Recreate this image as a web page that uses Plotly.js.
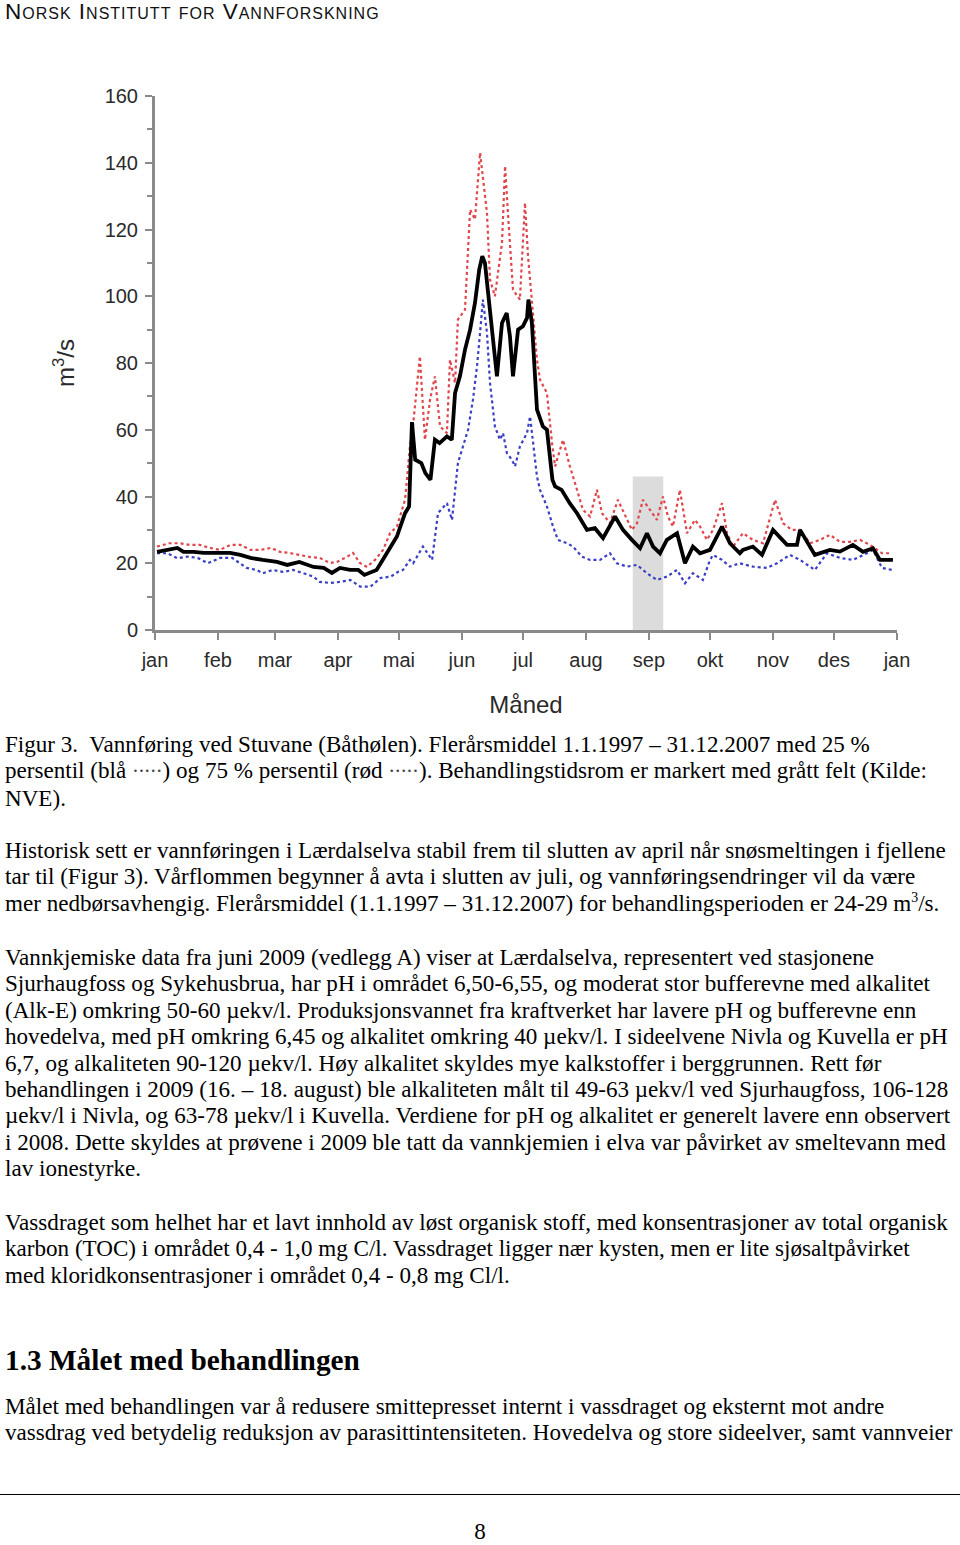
<!DOCTYPE html>
<html>
<head>
<meta charset="utf-8">
<script src="https://cdn.plot.ly/plotly-3.0.1.min.js"></script>
<style>
  html, body { margin:0; padding:0; background:#fff; }
  body { width:960px; height:1545px; position:relative; overflow:hidden; }
  #header { position:absolute; left:5px; top:0px; font-family:"Liberation Sans", Arial, sans-serif; font-variant:small-caps; font-size:22.5px; letter-spacing:1.0px; color:#111; line-height:24px; white-space:nowrap; }
  #chart { position:absolute; left:0; top:60px; width:960px; height:670px; }
  .txt { position:absolute; left:5px; font-family:"Liberation Serif", "Times New Roman", serif; font-size:23.1px; line-height:26.4px; color:#000; white-space:nowrap; }
  .h2 { position:absolute; left:5px; font-family:"Liberation Serif", "Times New Roman", serif; font-weight:bold; font-size:29.3px; color:#000; white-space:nowrap; line-height:32px; }
  .dots { letter-spacing:-1px; font-size:0.9em; color:#444; padding-right:1px; }
  #rule { position:absolute; left:0; top:1494px; width:960px; height:0; border-top:1.5px solid #000; }
  #pnum { position:absolute; left:0; width:960px; top:1519px; text-align:center; font-family:"Liberation Serif", "Times New Roman", serif; font-size:23px; line-height:26px; }
  sup { font-size:0.6em; line-height:0; vertical-align:0.65em; }
</style>
</head>
<body>
<div id="header">Norsk Institutt for Vannforskning</div>
<div id="chart"></div>

<div class="txt" style="top:731px">Figur 3.&nbsp; Vannføring ved Stuvane (Båthølen). Flerårsmiddel 1.1.1997 – 31.12.2007 med 25 %<br>persentil (blå <span class="dots">·····</span>) og 75 % persentil (rød <span class="dots">·····</span>). Behandlingstidsrom er markert med grått felt (Kilde:<br>NVE).</div>

<div class="txt" style="top:837px">Historisk sett er vannføringen i Lærdalselva stabil frem til slutten av april når snøsmeltingen i fjellene<br>tar til (Figur 3). Vårflommen begynner å avta i slutten av juli, og vannføringsendringer vil da være<br>mer nedbørsavhengig. Flerårsmiddel (1.1.1997 – 31.12.2007) for behandlingsperioden er 24-29 m<sup>3</sup>/s.</div>

<div class="txt" style="top:944px">Vannkjemiske data fra juni 2009 (vedlegg A) viser at Lærdalselva, representert ved stasjonene<br>Sjurhaugfoss og Sykehusbrua, har pH i området 6,50-6,55, og moderat stor bufferevne med alkalitet<br>(Alk-E) omkring 50-60 µekv/l. Produksjonsvannet fra kraftverket har lavere pH og bufferevne enn<br>hovedelva, med pH omkring 6,45 og alkalitet omkring 40 µekv/l. I sideelvene Nivla og Kuvella er pH<br>6,7, og alkaliteten 90-120 µekv/l. Høy alkalitet skyldes mye kalkstoffer i berggrunnen. Rett før<br>behandlingen i 2009 (16. – 18. august) ble alkaliteten målt til 49-63 µekv/l ved Sjurhaugfoss, 106-128<br>µekv/l i Nivla, og 63-78 µekv/l i Kuvella. Verdiene for pH og alkalitet er generelt lavere enn observert<br>i 2008. Dette skyldes at prøvene i 2009 ble tatt da vannkjemien i elva var påvirket av smeltevann med<br>lav ionestyrke.</div>

<div class="txt" style="top:1209px">Vassdraget som helhet har et lavt innhold av løst organisk stoff, med konsentrasjoner av total organisk<br>karbon (TOC) i området 0,4 - 1,0 mg C/l. Vassdraget ligger nær kysten, men er lite sjøsaltpåvirket<br>med kloridkonsentrasjoner i området 0,4 - 0,8 mg Cl/l.</div>

<div class="h2" style="top:1344px">1.3 Målet med behandlingen</div>

<div class="txt" style="top:1393px">Målet med behandlingen var å redusere smittepresset internt i vassdraget og eksternt mot andre<br>vassdrag ved betydelig reduksjon av parasittintensiteten. Hovedelva og store sideelver, samt vannveier</div>

<div id="rule"></div>
<div id="pnum">8</div>

<script>
// Month ticks (day of year at month start) and labels
const monthStartDays = [0, 31, 59, 90, 120, 151, 181, 212, 243, 273, 304, 334, 365];
const monthLabels = ["jan","feb","mar","apr","mai","jun","jul","aug","sep","okt","nov","des","jan"];

// Multi-year mean (black solid)
const meanDays = [1,6,11,14,19,24,31,37,42,47,53,60,65,71,78,83,87,91,96,100,103,109,112,116,119,123,125,126.4,128,131,133,135.5,137.7,140,143.6,146,147.6,150,152.5,155,157.4,159.5,161,162.3,164,166,168.2,170.7,173,174.6,176.1,178.6,181,183,183.7,185.4,187.9,190.8,192.8,195.5,196.8,200,204,207.6,212.5,216.4,220.4,226.3,230.2,234.6,238.6,242,245,248.4,251.8,256.8,260.7,264.6,268.1,273,278.9,282.8,287.7,289.2,294.1,298.6,304,310.9,315.8,317.3,324.6,332,336.9,343.3,348.3,353.2,356.6,363];
const meanVals = [23.4,24,24.6,23.4,23.4,23.1,23.1,23.1,22.5,21.6,21,20.4,19.5,20.4,18.9,18.6,17.1,18.6,18,18,16.5,18,21,24.9,28,35,37,62.3,51,50,47,45,57,56,58,57,71,76,84,90,98,108,112,110,100,88,76,92,95,88,76,90,91,93.5,99,92,66,61,60,45,43,42,38,35,30,30.5,27.5,34,30,27,24.5,29,25,23,27,29,20,25,23,24,31,26,23,24,25,22.5,30,25.5,25.5,30,22.5,24,23.5,25.5,23.4,24.5,21,21];

// 75 % percentile (red dotted)
const p75Days = [1,7,12,17,22,27,32,37,42,47,52,57,61.5,66,71,76,81,86,89.5,94.4,97.4,100.8,104.3,108.2,112.2,115.6,119,123,125.4,126.9,130.3,132.8,135.3,137.7,140.2,143.6,145.1,147.6,149,152.5,155,157.4,159.9,161.3,163.3,164.8,167.2,170.7,172.2,173.6,176.1,179.5,182,183.5,185.4,187.9,189.4,192.8,195.3,196.8,200.7,204.1,207.6,210.5,214,217.4,219.9,223.8,227.7,232.2,234.6,237.1,240,243.5,246.9,249.9,252.3,254.8,258.2,261.7,265.6,268.1,271.5,274.5,278.9,281.4,284.3,289.2,294.1,299.1,305,308.9,313.3,317.3,322.2,327.1,332,336.9,341.9,346.8,351.7,357.6,362.5];
const p75Vals = [25,26,26,25.5,25.5,24.6,24,25.5,25.5,24,24,24.6,23.4,23.1,22.5,21.9,21.6,20.1,20.4,21.9,23.1,20.1,18.9,21,24,29,31,39,55,61,82,57,69,76,61,59,81,74,93,96,126,123,143,136,125,105,100,116,139,125,102,99,128,112,98,81,75,71,56,49,57,49,42,36,34,42,35,32,39,33,30,32,39,36,33,40,34,31,42,29,33,31,27,30,38,29,25,29,27,26,39,32,30,30,26,27,28.5,26.4,26.4,27,25.5,23,23];

// 25 % percentile (blue dotted)
const p25Days = [1,6,11,16,21,26,32,38,45,50,53,58,63,68,73,78,81,86,91,96,101,106,111,116,119.5,122,125.4,127,131.8,136.3,139.2,143.6,146.1,147.6,149,152.5,154,156.4,158.4,159.9,161.3,163.3,164.8,167.2,169.7,171.2,173.1,175.6,177.1,179.5,183,184.5,185.9,187.9,189.4,192.8,195.8,198.2,202.7,205.6,210,214,218.9,223.8,227.2,232.2,237.1,242,246.9,251.8,256.8,260.7,264.6,269.5,273,274.5,278.9,282.8,287.7,294.1,301,306,312.3,317.3,324.6,330.5,336.9,343.3,350.2,353.2,357.6,362.5];
const p25Vals = [23,23,21.5,22,21.6,20,21.6,21.6,18.6,18,17,18,17.4,18,17,16,14.4,14.1,14.4,15,13,13,15.6,16,17.4,18,21,20,25,21,35,38,33,43,50,57,60,69,79,89,99,89,74,61,57,59,53,51,49,55,59,64,57,46,42,37,31,27,26,25,22,21,21,23,20,19,19.5,17,15,16,18,14,17,15,21,22.5,21,19,20,19,18.6,20,22.5,21,18,23,21.6,21,23,24,18.6,18];

// Treatment period (grey band), day of year and upper value
const treatmentDays = [235, 250];
const treatmentTop = 46;

const axisColor = "#8a8a8a";
const fontFam = "Liberation Sans, Arial, sans-serif";

const traces = [
  { x: p75Days, y: p75Vals, type: "scatter", mode: "lines", name: "75 %",
    line: { color: "#e0474c", width: 2.2, dash: "dot" }, hoverinfo: "skip" },
  { x: p25Days, y: p25Vals, type: "scatter", mode: "lines", name: "25 %",
    line: { color: "#3b3fc4", width: 2.2, dash: "dot" }, hoverinfo: "skip" },
  { x: meanDays, y: meanVals, type: "scatter", mode: "lines", name: "middel",
    line: { color: "#000000", width: 3.8 }, hoverinfo: "skip" }
];

const layout = {
  width: 960, height: 670,
  margin: { l: 155, r: 63, t: 36, b: 100 },
  paper_bgcolor: "#ffffff", plot_bgcolor: "#ffffff",
  showlegend: false,
  font: { family: fontFam, color: "#2a2a2a", size: 20 },
  xaxis: {
    range: [0, 365], showgrid: false, zeroline: false,
    showline: true, linecolor: axisColor, linewidth: 3,
    tickmode: "array", tickvals: monthStartDays, ticktext: monthLabels,
    ticks: "outside", ticklen: 7, tickwidth: 2, tickcolor: axisColor,
    ticklabelstandoff: 3,
    tickfont: { family: fontFam, size: 20, color: "#2a2a2a" },
    title: { text: "Måned", font: { family: fontFam, size: 24, color: "#2a2a2a" }, standoff: 27 }
  },
  yaxis: {
    range: [0, 160], showgrid: false, zeroline: false,
    showline: true, linecolor: axisColor, linewidth: 3,
    tickmode: "linear", tick0: 0, dtick: 20,
    ticks: "outside", ticklen: 7, tickwidth: 2, tickcolor: axisColor,
    minor: { dtick: 10, ticks: "outside", ticklen: 5, tickwidth: 2, tickcolor: axisColor },
    tickfont: { family: fontFam, size: 20, color: "#2a2a2a" },
    ticklabelstandoff: 3,
    title: { text: "m<sup>3</sup>/s", font: { family: fontFam, size: 24, color: "#2a2a2a" }, standoff: 24 }
  },
  shapes: [{
    type: "rect", xref: "x", yref: "y", layer: "below",
    x0: treatmentDays[0], x1: treatmentDays[1], y0: 0, y1: treatmentTop,
    fillcolor: "#dcdcdc", line: { width: 0 }
  }]
};

Plotly.newPlot("chart", traces, layout, { staticPlot: true, displayModeBar: false });
</script>
</body>
</html>
